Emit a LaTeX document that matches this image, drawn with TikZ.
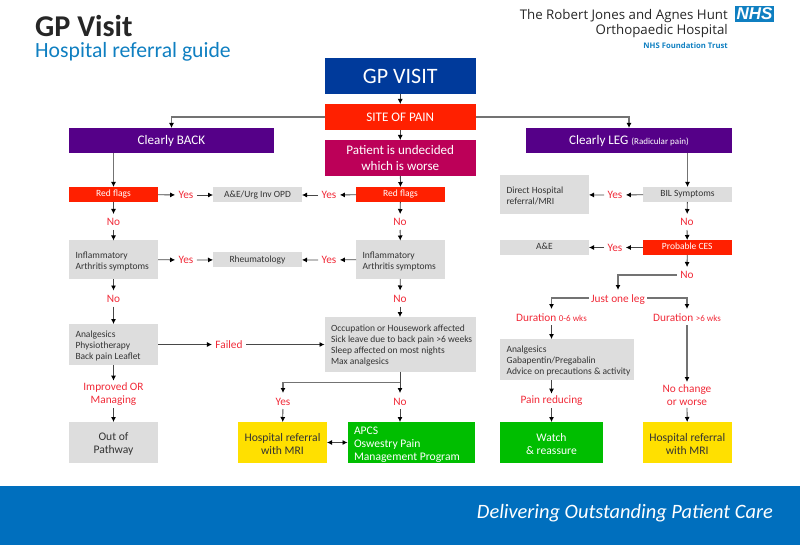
\documentclass[tikz,border=0pt]{standalone}
\usepackage{fontspec}
\setmainfont{Carlito}
\newfontfamily\hospfont{Open Sans}
\newfontfamily\logofont{Liberation Sans}
\usetikzlibrary{arrows.meta,calc}
\definecolor{cblue}{HTML}{003A9B}
\definecolor{cred}{HTML}{FF2000}
\definecolor{cmag}{HTML}{BC0058}
\definecolor{cpur}{HTML}{550088}
\definecolor{cgry}{HTML}{DDDDDD}
\definecolor{cyel}{HTML}{FFE000}
\definecolor{cgrn}{HTML}{00BE00}
\definecolor{cfoot}{HTML}{006FBE}
\definecolor{ctxt}{HTML}{F02A38}
\definecolor{cdark}{HTML}{333333}
\definecolor{clink}{HTML}{0F7FC1}
\newcommand{\fs}[2]{\fontsize{#1}{#2}\selectfont}
\newcommand{\tpa}{\rule{0pt}{9.5pt}}
\newcommand{\tpb}{\rule{0pt}{11pt}}
\tikzset{
  boxbase/.style={inner sep=0pt,outer sep=0pt,align=center},
  bigblue/.style={boxbase,fill=cblue,text=white,font=\fs{22}{26}},
  redhead/.style={boxbase,fill=cred,text=white,font=\fs{13.1}{15}},
  maghead/.style={boxbase,fill=cmag,text=white,font=\fs{13.1}{15.5}},
  purhead/.style={boxbase,fill=cpur,text=white,font=\fs{13.1}{15}},
  redsmall/.style={boxbase,fill=cred,text=white,font=\fs{9.5}{11},text height=7.5pt,text depth=2.5pt},
  grybase/.style={boxbase,fill=cgry,text=cdark,font=\fs{9.5}{11}},
  grysmall/.style={grybase,text height=7.5pt,text depth=2.5pt},
  grylist/.style={grybase,align=flush left,text width=\tw pt,inner xsep=6.5pt},
  gryend/.style={boxbase,fill=cgry,text=cdark,font=\fs{11.6}{13}},
  yelend/.style={boxbase,fill=cyel,text=cdark,font=\fs{11.6}{13}},
  grnend/.style={boxbase,fill=cgrn,text=white,font=\fs{11.6}{13}},
  grnlist/.style={grnend,align=flush left,text width=\tw pt,inner xsep=6.5pt},
  lab/.style={inner xsep=3.5pt,inner ysep=0pt,outer sep=0pt,text=ctxt,font=\fs{11.3}{13},align=center,text height=12pt,text depth=4pt},
  labtwo/.style={inner xsep=3.5pt,inner ysep=2.5pt,outer sep=0pt,text=ctxt,font=\fs{11.3}{13},align=center},
  arr/.style={draw=black!72,line width=0.8pt,-{Latex[black,length=5pt,width=5pt]}},
  arrlong/.style={draw=black!55,line width=1.1pt,-{Latex[black,length=5pt,width=5pt]}},
  arrtwo/.style={draw=black!72,line width=0.8pt,{Latex[black,length=5pt,width=5pt]}-{Latex[black,length=5pt,width=5pt]}},
}
\newcommand{\bx}[7]{%
  \pgfmathsetmacro{\cx}{(#3+#5)/2}\pgfmathsetmacro{\cy}{(#4+#6)/2}%
  \pgfmathsetmacro{\bw}{#5-#3}\pgfmathsetmacro{\bh}{#6-#4}\pgfmathsetmacro{\tw}{#5-#3-13}%
  \node[#2,minimum width=\bw pt,minimum height=\bh pt] (#1) at (\cx,\cy) {#7};}
\begin{document}
\begin{tikzpicture}[x=1pt,y=-1pt]
\useasboundingbox (0,0) rectangle (800,545);
% footer
\node[inner sep=0pt,fill=cfoot,minimum width=800pt,minimum height=59pt,anchor=north west] (foot) at (0,486) {};
\node[text=white,font=\fs{20.4}{24}\itshape,inner sep=0pt,anchor=east] (slogan) at (773,513) {Delivering Outstanding Patient Care};
% titles
\node[anchor=west,inner sep=0pt,font=\fs{30.2}{32}\bfseries,text=black!85] (title) at (35,26) {GP Visit};
\node[anchor=west,inner sep=0pt,font=\fs{21.7}{24},text=clink] (subtitle) at (35,52) {Hospital referral guide};
\node[anchor=east,inner sep=0pt,font=\hospfont\fs{13.3}{14},text=black!85] (hosp1) at (728,16) {The Robert Jones and Agnes Hunt};
\node[anchor=east,inner sep=0pt,font=\hospfont\fs{13.3}{14},text=black!85] (hosp2) at (728,31) {Orthopaedic Hospital};
\node[anchor=east,inner sep=0pt,font=\hospfont\fs{7.7}{9}\bfseries,text=clink] (hosp3) at (728,45.5) {NHS Foundation Trust};
\node[fill=clink,text=white,inner sep=0pt,minimum width=39pt,minimum height=16pt,font=\logofont\fs{17}{16}\bfseries\itshape] (nhs) at (754.5,14) {NHS};
% main boxes
\bx{gp}{bigblue}{324.5}{58}{476}{94}{GP VISIT}
\bx{site}{redhead}{324.5}{104}{476}{130}{SITE OF PAIN}
\bx{und}{maghead}{324.5}{140}{476}{176}{Patient is undecided\\which is worse}
\bx{back}{purhead}{69}{128}{274}{153.5}{Clearly BACK}
\bx{leg}{purhead}{526}{128}{732}{153.5}{Clearly LEG {\fs{9}{11}(Radicular pain)}}
% back column
\bx{rfa}{redsmall}{69}{187}{158}{202}{Red flags}
\bx{infa}{grylist}{69}{240.5}{158}{279}{\tpa Inflammatory\\Arthritis symptoms}
\bx{ana}{grylist}{69}{324}{158}{365}{\tpa Analgesics\\Physiotherapy\\Back pain Leaflet}
\bx{out}{gryend}{69}{422}{158}{462.5}{\tpb Out of\\Pathway}
% middle-left column
\bx{ae}{grysmall}{213}{187.5}{302}{202.5}{A\&E/Urg Inv OPD}
\bx{rheum}{grysmall}{213}{252}{302}{267.5}{Rheumatology}
% middle column
\bx{rfb}{redsmall}{356}{187}{445}{202}{Red flags}
\bx{infb}{grylist}{356}{240.5}{445}{279}{\tpa Inflammatory\\Arthritis symptoms}
\bx{occ}{grylist}{324.5}{317}{475.5}{371.5}{\tpa Occupation or Housework affected\\\mbox{Sick leave due to back pain >6 weeks}\\Sleep affected on most nights\\Max analgesics}
\bx{hosa}{yelend}{238}{422}{327}{463}{\tpb Hospital referral\\with MRI}
\bx{apcs}{grnlist}{347.5}{422}{475}{463}{\tpb APCS\\Oswestry Pain\\Management Program}
% right columns
\bx{bil}{grysmall}{643}{187}{732}{202}{BIL Symptoms}
\bx{direct}{grylist}{500}{175.5}{589}{214}{\tpa Direct Hospital\\referral/MRI}
\bx{ces}{redsmall}{642.5}{240}{732}{255}{Probable CES}
\bx{aeb}{grysmall}{500}{240}{589}{255}{A\&E}
\bx{anb}{grylist}{500}{339}{633.5}{380}{\tpa Analgesics\\Gabapentin/Pregabalin\\\mbox{Advice on precautions \& activity}}
\bx{watch}{grnend}{500}{422}{603}{462.5}{\tpb Watch\\\&\ reassure}
\bx{hosb}{yelend}{642.5}{422}{732}{462.5}{\tpb Hospital referral\\with MRI}
% labels
\node[lab] (noa) at (113.5,222) {No};
\node[lab] (nob) at (113.5,298.5) {No};
\node[lab] (yesa) at (186,195) {Yes};
\node[lab] (yesb) at (329,195) {Yes};
\node[lab] (yesc) at (186,260) {Yes};
\node[lab] (yesd) at (329,260) {Yes};
\node[lab] (noc) at (400,222) {No};
\node[lab] (nod) at (400,298.5) {No};
\node[lab] (failed) at (229,344.5) {Failed};
\node[labtwo] (impr) at (113.5,394.5) {Improved OR\\Managing};
\node[lab] (yese) at (283,401) {Yes};
\node[lab] (noe) at (400,401) {No};
\node[lab] (yesf) at (615,195) {Yes};
\node[lab] (noh) at (687,222) {No};
\node[lab] (yesg) at (615,247.5) {Yes};
\node[lab] (noi) at (687,275) {No};
\node[lab,inner xsep=2pt] (one) at (618,298) {Just one leg};
\node[lab] (dura) at (551.5,317) {Duration {\fs{9}{11}0-6 wks}};
\node[lab] (durb) at (687,317) {Duration {\fs{9}{11}>6 wks}};
\node[labtwo] (pain) at (551.5,401) {Pain reducing};
\node[labtwo] (nochg) at (687,395) {No change\\or worse};
% connectors
\draw[arr] (gp) -- (site);
\draw[arr] (site) -- (und);
\draw[arr] (und) -- (rfb);
\draw[arrlong] (site.west) -| (back.north);
\draw[arrlong] (site.east) -| (leg.north);
\draw[arrlong] (rfa |- back.south) -- (rfa.north);
\draw[arrlong] (bil |- leg.south) -- (bil.north);
\draw[arr] (rfa) -- (noa);
\draw[arr] (noa) -- (infa);
\draw[arr] (infa) -- (nob);
\draw[arr] (nob) -- (ana);
\draw[arr] (ana) -- (impr);
\draw[arr] (impr) -- (out);
\draw[arr] (rfa) -- (yesa);
\draw[arr] (yesa) -- (ae);
\draw[arr] (rfb) -- (yesb);
\draw[arr] (yesb) -- (ae);
\draw[arr] (infa.east |- rheum) -- (yesc);
\draw[arr] (yesc) -- (rheum);
\draw[arr] (infb.west |- rheum) -- (yesd);
\draw[arr] (yesd) -- (rheum);
\draw[arr] (rfb) -- (noc);
\draw[arr] (noc) -- (infb);
\draw[arr] (infb) -- (nod);
\draw[arr] (nod) -- (occ);
\draw[arr] (ana) -- (failed);
\draw[arr] (failed) -- (occ.west |- failed);
\draw[arr] (occ) -- (noe);
\coordinate (branch) at ($(occ.south)+(0,11)$);
\draw[arrlong] (branch) -| (yese.north);
\draw[arr] (yese) -- (hosa);
\draw[arr] (noe) -- (noe |- apcs.north);
\draw[arrtwo] (hosa) -- (hosa -| apcs.west);
\draw[arr] (bil) -- (yesf);
\draw[arr] (yesf) -- (direct);
\draw[arr] (bil) -- (noh);
\draw[arr] (noh) -- (ces);
\draw[arr] (ces) -- (yesg);
\draw[arr] (yesg) -- (aeb);
\draw[arr] (ces) -- (noi);
\draw[arrlong] (noi.west) -| (one.north);
\draw[arrlong] (one.west) -| (dura.north);
\draw[arrlong] (one.east) -| (durb.north);
\draw[arr] (dura) -- (dura |- anb.north);
\draw[arr] (dura |- anb.south) -- (pain);
\draw[arr] (pain) -- (watch);
\draw[arrlong] (durb) -- (nochg);
\draw[arr] (nochg) -- (hosb);
\end{tikzpicture}
\end{document}
